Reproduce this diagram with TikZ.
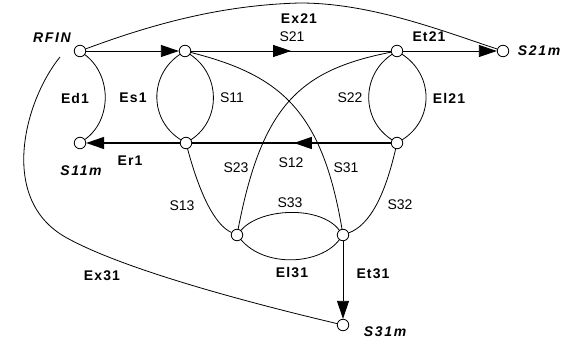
\documentclass[tikz,border=0pt]{standalone}
\usepackage{fontspec}
\setmainfont{Liberation Sans}
\newfontfamily\elabfont[LetterSpace=8]{Liberation Sans}
\newfontfamily\plabfont[LetterSpace=12]{Liberation Sans}
\usetikzlibrary{arrows.meta,decorations.markings}
\begin{document}
\begin{tikzpicture}[x=1pt,y=-1pt,
  port/.style={circle,draw,fill=white,inner sep=0pt,minimum size=11.5pt,line width=0.8pt},
  edge/.style={line width=0.8pt},
  mainline/.style={line width=1.4pt},
  endtip/.style={-{Triangle[length=18pt,width=12pt]}},
  midtip/.style={postaction={decorate},decoration={markings,mark=at position #1 with {\arrow{Triangle[length=18pt,width=12pt]}}}},
  slab/.style={font=\fontsize{14}{16}\selectfont},
  elab/.style={font=\elabfont\fontsize{14}{16}\selectfont\bfseries},
  plab/.style={font=\plabfont\fontsize{14}{16}\selectfont\bfseries\itshape},
]
\useasboundingbox (0,0) rectangle (567,342);
% ports
\node[port] (rfin) at (80,51) {};
\node[port] (a1) at (185,51) {};
\node[port] (b2) at (397,51) {};
\node[port] (s21m) at (503,51) {};
\node[port] (s11m) at (80,143) {};
\node[port] (b1) at (186,143) {};
\node[port] (a2) at (397,143) {};
\node[port] (c1) at (237,235) {};
\node[port] (c2) at (343,235) {};
\node[port] (s31m) at (343,325) {};
\coordinate (ex31s) at (60,57);
% straight branches
\draw[edge,endtip] (rfin) -- (a1);
\draw[edge,midtip=100pt] (a1) -- (b2);
\draw[edge,endtip] (b2) -- (s21m);
\draw[mainline,midtip=97pt] (a2) -- (b1);
\draw[mainline,endtip] (b1) -- (s11m);
\draw[edge,endtip] (c2) -- (s31m);
% curved branches
\draw[edge] (rfin) .. controls (150,25) and (220,5) .. (300,3) .. controls (370,3) and (440,30) .. (s21m);
\draw[edge] (rfin) .. controls (112,75) and (112,120) .. (s11m);
\draw[edge] (a1) .. controls (149,75) and (149,120) .. (b1);
\draw[edge] (a1) .. controls (221,75) and (221,120) .. (b1);
\draw[edge] (b2) .. controls (361,75) and (361,120) .. (a2);
\draw[edge] (b2) .. controls (434,75) and (434,120) .. (a2);
\draw[edge] (a1) .. controls (280,75) and (322,110) .. (c2);
\draw[edge] (b2) .. controls (300,70) and (262,105) .. (c1);
\draw[edge] (b1) .. controls (200,195) and (215,225) .. (c1);
\draw[edge] (a2) .. controls (385,195) and (370,225) .. (c2);
\draw[edge] (c1) .. controls (260,208) and (320,205) .. (c2);
\draw[edge] (c1) .. controls (265,268) and (320,265) .. (c2);
\draw[edge] (ex31s) .. controls (25,100) and (-3,200) .. (67,238) .. controls (125,270) and (250,303) .. (s31m);
% port labels
\node[plab] (lrfin) at (52,38) {RFIN};
\node[plab] (ls21m) at (539,51) {S21m};
\node[plab] (ls11m) at (81,171) {S11m};
\node[plab] (ls31m) at (385,332) {S31m};
% branch labels
\node[elab] (lex21) at (299,19) {Ex21};
\node[slab] (ls21) at (292,37) {S21};
\node[elab] (let21) at (429,37) {Et21};
\node[elab] (led1) at (75,98) {Ed1};
\node[elab] (les1) at (133,98) {Es1};
\node[slab] (ls11) at (232,98) {S11};
\node[slab] (ls22) at (350,98) {S22};
\node[elab] (lel21) at (449,98) {El21};
\node[elab] (ler1) at (130,161) {Er1};
\node[slab] (ls12) at (291,163) {S12};
\node[slab] (ls23) at (236,168) {S23};
\node[slab] (ls31) at (346,168) {S31};
\node[slab] (ls13) at (182,206) {S13};
\node[slab] (ls33) at (290,203) {S33};
\node[slab] (ls32) at (400,205) {S32};
\node[elab] (lel31) at (292,273) {El31};
\node[elab] (let31) at (373,274) {Et31};
\node[elab] (lex31) at (102,276) {Ex31};
\end{tikzpicture}
\end{document}
